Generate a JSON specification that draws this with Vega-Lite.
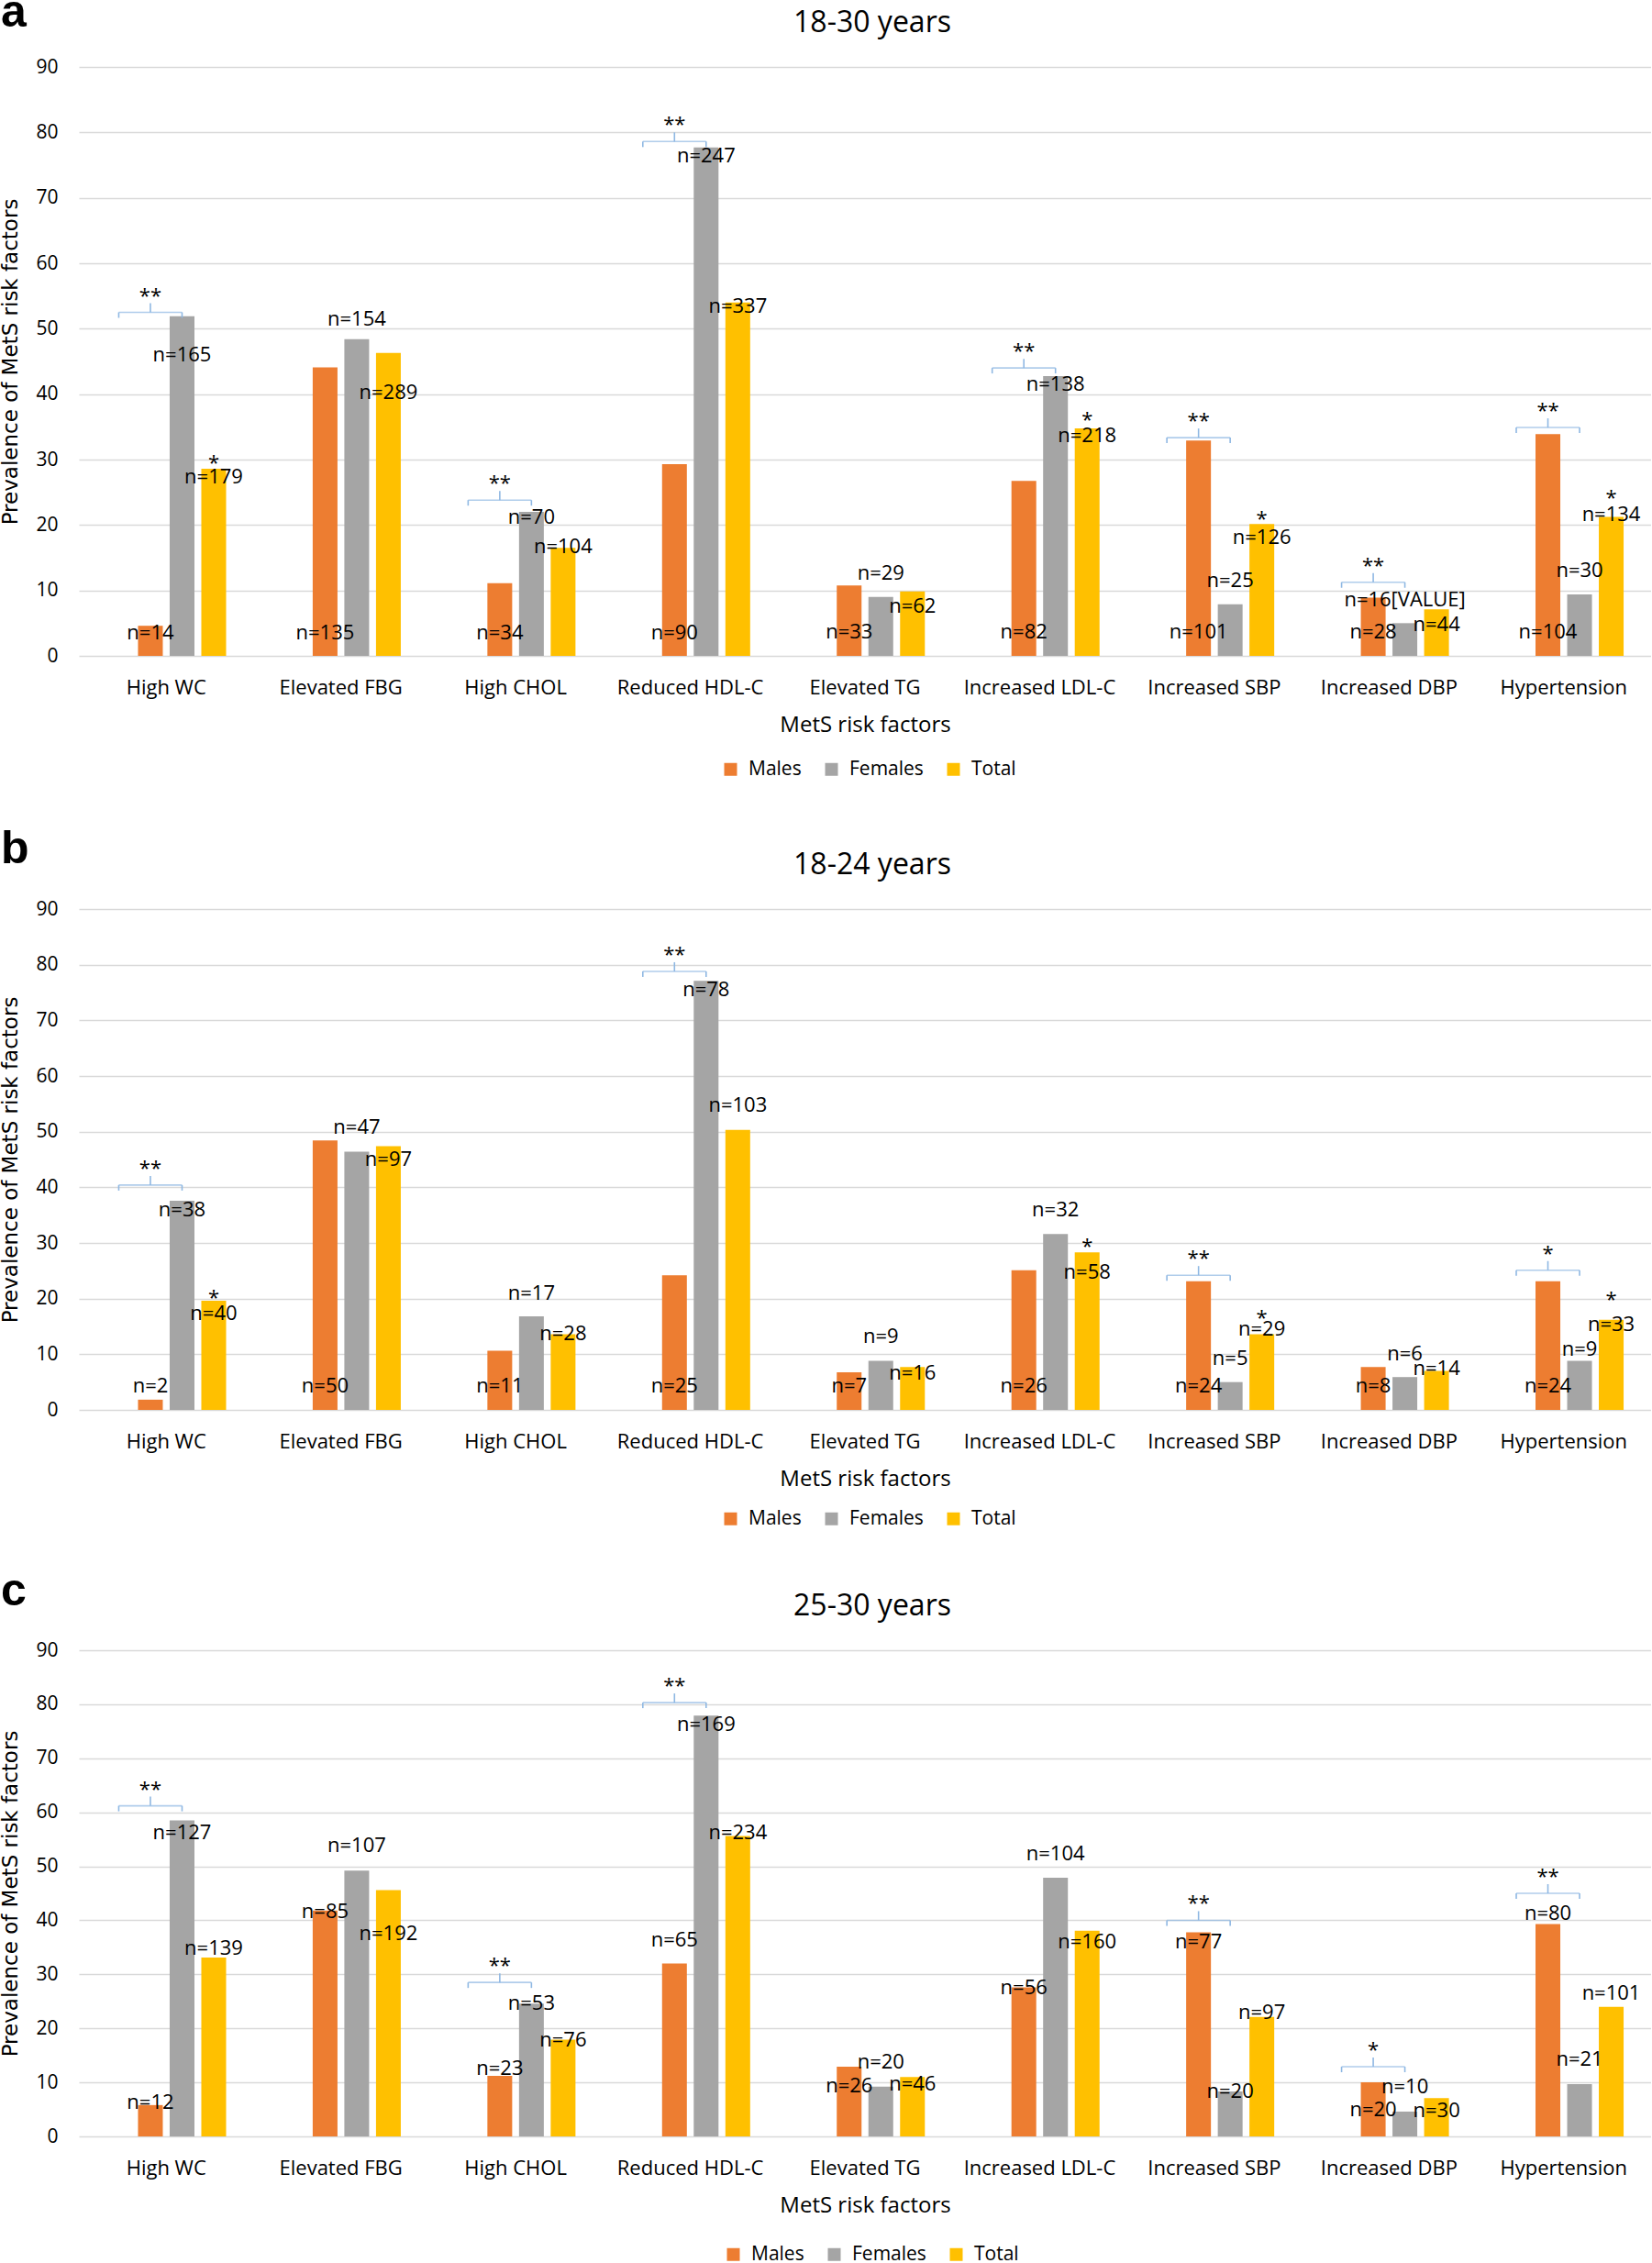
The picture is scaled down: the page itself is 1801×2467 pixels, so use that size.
{
  "$schema": "https://vega.github.io/schema/vega-lite/v6.json",
  "padding": {"top": -11, "left": 0, "right": 0, "bottom": 0},
  "background": "white",
  "datasets": {
    "bars": [
      {"panel": "a", "factor": "High WC", "sex": "Males", "value": 4.6, "n": "n=14", "ly": 3.55},
      {"panel": "a", "factor": "High WC", "sex": "Females", "value": 51.9, "n": "n=165", "ly": 46.0},
      {"panel": "a", "factor": "High WC", "sex": "Total", "value": 28.6, "n": "n=179", "ly": 27.3},
      {"panel": "a", "factor": "Elevated FBG", "sex": "Males", "value": 44.1, "n": "n=135", "ly": 3.55},
      {"panel": "a", "factor": "Elevated FBG", "sex": "Females", "value": 48.4, "n": "n=154", "ly": 51.4},
      {"panel": "a", "factor": "Elevated FBG", "sex": "Total", "value": 46.3, "n": "n=289", "ly": 40.3},
      {"panel": "a", "factor": "High CHOL", "sex": "Males", "value": 11.1, "n": "n=34", "ly": 3.55},
      {"panel": "a", "factor": "High CHOL", "sex": "Females", "value": 22.0, "n": "n=70", "ly": 21.1},
      {"panel": "a", "factor": "High CHOL", "sex": "Total", "value": 16.5, "n": "n=104", "ly": 16.7},
      {"panel": "a", "factor": "Reduced HDL-C", "sex": "Males", "value": 29.3, "n": "n=90", "ly": 3.55},
      {"panel": "a", "factor": "Reduced HDL-C", "sex": "Females", "value": 77.7, "n": "n=247", "ly": 76.4},
      {"panel": "a", "factor": "Reduced HDL-C", "sex": "Total", "value": 54.0, "n": "n=337", "ly": 53.4},
      {"panel": "a", "factor": "Elevated TG", "sex": "Males", "value": 10.75, "n": "n=33", "ly": 3.6},
      {"panel": "a", "factor": "Elevated TG", "sex": "Females", "value": 9.0, "n": "n=29", "ly": 12.65},
      {"panel": "a", "factor": "Elevated TG", "sex": "Total", "value": 9.85, "n": "n=62", "ly": 7.6},
      {"panel": "a", "factor": "Increased LDL-C", "sex": "Males", "value": 26.75, "n": "n=82", "ly": 3.6},
      {"panel": "a", "factor": "Increased LDL-C", "sex": "Females", "value": 42.75, "n": "n=138", "ly": 41.5},
      {"panel": "a", "factor": "Increased LDL-C", "sex": "Total", "value": 34.75, "n": "n=218", "ly": 33.6},
      {"panel": "a", "factor": "Increased SBP", "sex": "Males", "value": 32.9, "n": "n=101", "ly": 3.6},
      {"panel": "a", "factor": "Increased SBP", "sex": "Females", "value": 7.9, "n": "n=25", "ly": 11.5},
      {"panel": "a", "factor": "Increased SBP", "sex": "Total", "value": 20.15, "n": "n=126", "ly": 18.1},
      {"panel": "a", "factor": "Increased DBP", "sex": "Males", "value": 8.9, "n": "n=28", "ly": 3.6},
      {"panel": "a", "factor": "Increased DBP", "sex": "Females", "value": 5.0, "n": "n=16[VALUE]", "ly": 8.6},
      {"panel": "a", "factor": "Increased DBP", "sex": "Total", "value": 7.1, "n": "n=44", "ly": 4.75},
      {"panel": "a", "factor": "Hypertension", "sex": "Males", "value": 33.9, "n": "n=104", "ly": 3.6},
      {"panel": "a", "factor": "Hypertension", "sex": "Females", "value": 9.4, "n": "n=30", "ly": 13.0},
      {"panel": "a", "factor": "Hypertension", "sex": "Total", "value": 21.25, "n": "n=134", "ly": 21.6},

      {"panel": "b", "factor": "High WC", "sex": "Males", "value": 1.84, "n": "n=2", "ly": 4.3},
      {"panel": "b", "factor": "High WC", "sex": "Females", "value": 37.6, "n": "n=38", "ly": 36.0},
      {"panel": "b", "factor": "High WC", "sex": "Total", "value": 19.6, "n": "n=40", "ly": 17.3},
      {"panel": "b", "factor": "Elevated FBG", "sex": "Males", "value": 48.4, "n": "n=50", "ly": 4.3},
      {"panel": "b", "factor": "Elevated FBG", "sex": "Females", "value": 46.4, "n": "n=47", "ly": 50.7},
      {"panel": "b", "factor": "Elevated FBG", "sex": "Total", "value": 47.4, "n": "n=97", "ly": 45.0},
      {"panel": "b", "factor": "High CHOL", "sex": "Males", "value": 10.65, "n": "n=11", "ly": 4.3},
      {"panel": "b", "factor": "High CHOL", "sex": "Females", "value": 16.8, "n": "n=17", "ly": 21.0},
      {"panel": "b", "factor": "High CHOL", "sex": "Total", "value": 13.6, "n": "n=28", "ly": 13.6},
      {"panel": "b", "factor": "Reduced HDL-C", "sex": "Males", "value": 24.2, "n": "n=25", "ly": 4.3},
      {"panel": "b", "factor": "Reduced HDL-C", "sex": "Females", "value": 77.1, "n": "n=78", "ly": 75.5},
      {"panel": "b", "factor": "Reduced HDL-C", "sex": "Total", "value": 50.3, "n": "n=103", "ly": 54.7},
      {"panel": "b", "factor": "Elevated TG", "sex": "Males", "value": 6.76, "n": "n=7", "ly": 4.3},
      {"panel": "b", "factor": "Elevated TG", "sex": "Females", "value": 8.8, "n": "n=9", "ly": 13.2},
      {"panel": "b", "factor": "Elevated TG", "sex": "Total", "value": 7.7, "n": "n=16", "ly": 6.6},
      {"panel": "b", "factor": "Increased LDL-C", "sex": "Males", "value": 25.1, "n": "n=26", "ly": 4.3},
      {"panel": "b", "factor": "Increased LDL-C", "sex": "Females", "value": 31.6, "n": "n=32", "ly": 36.0},
      {"panel": "b", "factor": "Increased LDL-C", "sex": "Total", "value": 28.3, "n": "n=58", "ly": 24.8},
      {"panel": "b", "factor": "Increased SBP", "sex": "Males", "value": 23.1, "n": "n=24", "ly": 4.3},
      {"panel": "b", "factor": "Increased SBP", "sex": "Females", "value": 5.0, "n": "n=5", "ly": 9.2},
      {"panel": "b", "factor": "Increased SBP", "sex": "Total", "value": 13.6, "n": "n=29", "ly": 14.5},
      {"panel": "b", "factor": "Increased DBP", "sex": "Males", "value": 7.7, "n": "n=8", "ly": 4.3},
      {"panel": "b", "factor": "Increased DBP", "sex": "Females", "value": 5.9, "n": "n=6", "ly": 10.1},
      {"panel": "b", "factor": "Increased DBP", "sex": "Total", "value": 7.0, "n": "n=14", "ly": 7.35},
      {"panel": "b", "factor": "Hypertension", "sex": "Males", "value": 23.1, "n": "n=24", "ly": 4.3},
      {"panel": "b", "factor": "Hypertension", "sex": "Females", "value": 8.8, "n": "n=9", "ly": 10.9},
      {"panel": "b", "factor": "Hypertension", "sex": "Total", "value": 16.2, "n": "n=33", "ly": 15.4},

      {"panel": "c", "factor": "High WC", "sex": "Males", "value": 5.8, "n": "n=12", "ly": 6.2},
      {"panel": "c", "factor": "High WC", "sex": "Females", "value": 58.5, "n": "n=127", "ly": 56.2},
      {"panel": "c", "factor": "High WC", "sex": "Total", "value": 33.1, "n": "n=139", "ly": 34.8},
      {"panel": "c", "factor": "Elevated FBG", "sex": "Males", "value": 41.8, "n": "n=85", "ly": 41.6},
      {"panel": "c", "factor": "Elevated FBG", "sex": "Females", "value": 49.2, "n": "n=107", "ly": 53.9},
      {"panel": "c", "factor": "Elevated FBG", "sex": "Total", "value": 45.6, "n": "n=192", "ly": 37.5},
      {"panel": "c", "factor": "High CHOL", "sex": "Males", "value": 11.2, "n": "n=23", "ly": 12.5},
      {"panel": "c", "factor": "High CHOL", "sex": "Females", "value": 24.6, "n": "n=53", "ly": 24.6},
      {"panel": "c", "factor": "High CHOL", "sex": "Total", "value": 17.9, "n": "n=76", "ly": 17.9},
      {"panel": "c", "factor": "Reduced HDL-C", "sex": "Males", "value": 32.0, "n": "n=65", "ly": 36.4},
      {"panel": "c", "factor": "Reduced HDL-C", "sex": "Females", "value": 77.9, "n": "n=169", "ly": 76.2},
      {"panel": "c", "factor": "Reduced HDL-C", "sex": "Total", "value": 55.6, "n": "n=234", "ly": 56.2},
      {"panel": "c", "factor": "Elevated TG", "sex": "Males", "value": 12.9, "n": "n=26", "ly": 9.3},
      {"panel": "c", "factor": "Elevated TG", "sex": "Females", "value": 9.2, "n": "n=20", "ly": 13.7},
      {"panel": "c", "factor": "Elevated TG", "sex": "Total", "value": 11.0, "n": "n=46", "ly": 9.6},
      {"panel": "c", "factor": "Increased LDL-C", "sex": "Males", "value": 27.6, "n": "n=56", "ly": 27.5},
      {"panel": "c", "factor": "Increased LDL-C", "sex": "Females", "value": 47.9, "n": "n=104", "ly": 52.3},
      {"panel": "c", "factor": "Increased LDL-C", "sex": "Total", "value": 38.1, "n": "n=160", "ly": 36.0},
      {"panel": "c", "factor": "Increased SBP", "sex": "Males", "value": 37.8, "n": "n=77", "ly": 36.0},
      {"panel": "c", "factor": "Increased SBP", "sex": "Females", "value": 8.3, "n": "n=20", "ly": 8.3},
      {"panel": "c", "factor": "Increased SBP", "sex": "Total", "value": 22.1, "n": "n=97", "ly": 22.9},
      {"panel": "c", "factor": "Increased DBP", "sex": "Males", "value": 10.0, "n": "n=20", "ly": 5.0},
      {"panel": "c", "factor": "Increased DBP", "sex": "Females", "value": 4.6, "n": "n=10", "ly": 9.2},
      {"panel": "c", "factor": "Increased DBP", "sex": "Total", "value": 7.1, "n": "n=30", "ly": 4.8},
      {"panel": "c", "factor": "Hypertension", "sex": "Males", "value": 39.3, "n": "n=80", "ly": 41.2},
      {"panel": "c", "factor": "Hypertension", "sex": "Females", "value": 9.7, "n": "n=21", "ly": 14.2},
      {"panel": "c", "factor": "Hypertension", "sex": "Total", "value": 24.0, "n": "n=101", "ly": 26.5}
    ],
    "brackets": [
      {"panel": "a", "factor": "High WC", "level": 52.5, "stars": "**"},
      {"panel": "a", "factor": "High CHOL", "level": 23.8, "stars": "**"},
      {"panel": "a", "factor": "Reduced HDL-C", "level": 78.6, "stars": "**"},
      {"panel": "a", "factor": "Increased LDL-C", "level": 44.0, "stars": "**"},
      {"panel": "a", "factor": "Increased SBP", "level": 33.35, "stars": "**"},
      {"panel": "a", "factor": "Increased DBP", "level": 11.25, "stars": "**"},
      {"panel": "a", "factor": "Hypertension", "level": 34.9, "stars": "**"},
      {"panel": "b", "factor": "High WC", "level": 40.4, "stars": "**"},
      {"panel": "b", "factor": "Reduced HDL-C", "level": 78.8, "stars": "**"},
      {"panel": "b", "factor": "Increased SBP", "level": 24.2, "stars": "**"},
      {"panel": "b", "factor": "Hypertension", "level": 25.1, "stars": "*"},
      {"panel": "c", "factor": "High WC", "level": 61.2, "stars": "**"},
      {"panel": "c", "factor": "High CHOL", "level": 28.5, "stars": "**"},
      {"panel": "c", "factor": "Reduced HDL-C", "level": 80.3, "stars": "**"},
      {"panel": "c", "factor": "Increased SBP", "level": 40.0, "stars": "**"},
      {"panel": "c", "factor": "Increased DBP", "level": 12.9, "stars": "*"},
      {"panel": "c", "factor": "Hypertension", "level": 45.0, "stars": "**"}
    ],
    "stars": [
      {"panel": "a", "factor": "High WC", "at": 30.2},
      {"panel": "a", "factor": "Increased LDL-C", "at": 36.75},
      {"panel": "a", "factor": "Increased SBP", "at": 21.6},
      {"panel": "a", "factor": "Hypertension", "at": 24.85},
      {"panel": "b", "factor": "High WC", "at": 21.0},
      {"panel": "b", "factor": "Increased LDL-C", "at": 30.1},
      {"panel": "b", "factor": "Increased SBP", "at": 17.3},
      {"panel": "b", "factor": "Hypertension", "at": 20.6}
    ]
  },
  "spacing": 52,
  "resolve": {"legend": {"color": "independent"}},
  "vconcat": [
    {
      "title": {"text": "a", "anchor": "start", "frame": "bounds", "font": "Liberation Sans", "fontSize": 50, "fontWeight": "bold", "offset": -30},
      "resolve": {"legend": {"color": "independent"}},
      "vconcat": [
        {
          "title": {"text": "18-30 years", "anchor": "middle", "frame": "group", "fontSize": 32, "offset": 20, "dx": 8},
          "width": 1714,
          "height": 642,
          "encoding": {
            "x": {"field": "factor", "type": "nominal", "title": "MetS risk factors",
              "scale": {"domain": ["High WC", "Elevated FBG", "High CHOL", "Reduced HDL-C", "Elevated TG", "Increased LDL-C", "Increased SBP", "Increased DBP", "Hypertension"], "paddingInner": 0, "paddingOuter": 0}}
          },
          "layer": [
            {
              "data": {"name": "bars"},
              "transform": [{"filter": "datum.panel === 'a'"}],
              "mark": {"type": "bar"},
              "encoding": {
                "xOffset": {"field": "sex", "scale": {"domain": ["blank", "Males", "Females", "Total"], "paddingInner": 0.217, "paddingOuter": 0.868}},
                "y": {"field": "value", "type": "quantitative", "title": "Prevalence of MetS risk factors", "scale": {"domain": [0, 90], "nice": false}, "axis": {"values": [0, 10, 20, 30, 40, 50, 60, 70, 80, 90]}},
                "color": {"field": "sex", "type": "nominal", "scale": {"domain": ["Males", "Females", "Total"], "range": ["#ED7D31", "#A5A5A5", "#FFC000"]},
                  "legend": {"orient": "none", "legendX": 700, "legendY": 755, "direction": "horizontal", "title": null}}
              }
            },
            {
              "data": {"name": "bars"},
              "transform": [{"filter": "datum.panel === 'a'"}],
              "mark": {"type": "text", "fontSize": 22, "baseline": "middle", "color": "#000"},
              "encoding": {
                "xOffset": {"field": "sex", "scale": {"domain": ["blank", "Males", "Females", "Total"], "paddingInner": 0.217, "paddingOuter": 0.868}},
                "y": {"field": "ly", "type": "quantitative", "title": "Prevalence of MetS risk factors", "scale": {"domain": [0, 90], "nice": false}},
                "text": {"field": "n"}
              }
            },
            {
              "data": {"name": "brackets"},
              "transform": [{"filter": "datum.panel === 'a'"}],
              "mark": {"type": "tick", "orient": "horizontal", "size": 69, "thickness": 1.6, "color": "#8FB8E3"},
              "encoding": {
                "xOffset": {"datum": "Males", "scale": {"domain": ["blank", "Males", "Females", "Total"], "paddingInner": 0.217, "paddingOuter": 0.868}},
                "y": {"field": "level", "type": "quantitative", "title": "Prevalence of MetS risk factors", "scale": {"domain": [0, 90], "nice": false}}
              }
            },
            {
              "data": {"name": "brackets"},
              "transform": [{"filter": "datum.panel === 'a'"}],
              "mark": {"type": "rule", "strokeWidth": 1.6, "color": "#8FB8E3", "y2Offset": 6},
              "encoding": {
                "xOffset": {"datum": "blank", "scale": {"domain": ["blank", "Males", "Females", "Total"], "paddingInner": 0.217, "paddingOuter": 0.868}},
                "y": {"field": "level", "type": "quantitative", "title": "Prevalence of MetS risk factors", "scale": {"domain": [0, 90], "nice": false}},
                "y2": {"field": "level"}
              }
            },
            {
              "data": {"name": "brackets"},
              "transform": [{"filter": "datum.panel === 'a'"}],
              "mark": {"type": "rule", "strokeWidth": 1.6, "color": "#8FB8E3", "y2Offset": 6},
              "encoding": {
                "xOffset": {"datum": "Females", "scale": {"domain": ["blank", "Males", "Females", "Total"], "paddingInner": 0.217, "paddingOuter": 0.868}},
                "y": {"field": "level", "type": "quantitative", "title": "Prevalence of MetS risk factors", "scale": {"domain": [0, 90], "nice": false}},
                "y2": {"field": "level"}
              }
            },
            {
              "data": {"name": "brackets"},
              "transform": [{"filter": "datum.panel === 'a'"}],
              "mark": {"type": "rule", "strokeWidth": 1.6, "color": "#8FB8E3", "y2Offset": -10},
              "encoding": {
                "xOffset": {"datum": "Males", "scale": {"domain": ["blank", "Males", "Females", "Total"], "paddingInner": 0.217, "paddingOuter": 0.868}},
                "y": {"field": "level", "type": "quantitative", "title": "Prevalence of MetS risk factors", "scale": {"domain": [0, 90], "nice": false}},
                "y2": {"field": "level"}
              }
            },
            {
              "data": {"name": "brackets"},
              "transform": [{"filter": "datum.panel === 'a'"}],
              "mark": {"type": "text", "fontSize": 22, "baseline": "middle", "dy": -18, "color": "#000"},
              "encoding": {
                "xOffset": {"datum": "Males", "scale": {"domain": ["blank", "Males", "Females", "Total"], "paddingInner": 0.217, "paddingOuter": 0.868}},
                "y": {"field": "level", "type": "quantitative", "title": "Prevalence of MetS risk factors", "scale": {"domain": [0, 90], "nice": false}},
                "text": {"field": "stars"}
              }
            },
            {
              "data": {"name": "stars"},
              "transform": [{"filter": "datum.panel === 'a'"}],
              "mark": {"type": "text", "text": "*", "fontSize": 22, "baseline": "middle", "dy": 5, "color": "#000"},
              "encoding": {
                "xOffset": {"datum": "Total", "scale": {"domain": ["blank", "Males", "Females", "Total"], "paddingInner": 0.217, "paddingOuter": 0.868}},
                "y": {"field": "at", "type": "quantitative", "title": "Prevalence of MetS risk factors", "scale": {"domain": [0, 90], "nice": false}}
              }
            }
          ]
        }
      ]
    },
    {
      "spacing": 44,
      "resolve": {"legend": {"color": "independent"}},
      "vconcat": [
        {
          "title": {"text": "b", "anchor": "start", "frame": "bounds", "font": "Liberation Sans", "fontSize": 50, "fontWeight": "bold", "offset": -24},
          "resolve": {"legend": {"color": "independent"}},
          "vconcat": [
            {
              "title": {"text": "18-24 years", "anchor": "middle", "frame": "group", "fontSize": 32, "offset": 20, "dx": 8},
              "width": 1714,
              "height": 546,
              "encoding": {
                "x": {"field": "factor", "type": "nominal", "title": "MetS risk factors",
                  "scale": {"domain": ["High WC", "Elevated FBG", "High CHOL", "Reduced HDL-C", "Elevated TG", "Increased LDL-C", "Increased SBP", "Increased DBP", "Hypertension"], "paddingInner": 0, "paddingOuter": 0}}
              },
              "layer": [
                {
                  "data": {"name": "bars"},
                  "transform": [{"filter": "datum.panel === 'b'"}],
                  "mark": {"type": "bar"},
                  "encoding": {
                    "xOffset": {"field": "sex", "scale": {"domain": ["blank", "Males", "Females", "Total"], "paddingInner": 0.217, "paddingOuter": 0.868}},
                    "y": {"field": "value", "type": "quantitative", "title": "Prevalence of MetS risk factors", "scale": {"domain": [0, 90], "nice": false}, "axis": {"values": [0, 10, 20, 30, 40, 50, 60, 70, 80, 90]}},
                    "color": {"field": "sex", "type": "nominal", "scale": {"domain": ["Males", "Females", "Total"], "range": ["#ED7D31", "#A5A5A5", "#FFC000"]},
                      "legend": {"orient": "none", "legendX": 700, "legendY": 654, "direction": "horizontal", "title": null}}
                  }
                },
                {
                  "data": {"name": "bars"},
                  "transform": [{"filter": "datum.panel === 'b'"}],
                  "mark": {"type": "text", "fontSize": 22, "baseline": "middle", "color": "#000"},
                  "encoding": {
                    "xOffset": {"field": "sex", "scale": {"domain": ["blank", "Males", "Females", "Total"], "paddingInner": 0.217, "paddingOuter": 0.868}},
                    "y": {"field": "ly", "type": "quantitative", "title": "Prevalence of MetS risk factors", "scale": {"domain": [0, 90], "nice": false}},
                    "text": {"field": "n"}
                  }
                },
                {
                  "data": {"name": "brackets"},
                  "transform": [{"filter": "datum.panel === 'b'"}],
                  "mark": {"type": "tick", "orient": "horizontal", "size": 69, "thickness": 1.6, "color": "#8FB8E3"},
                  "encoding": {
                    "xOffset": {"datum": "Males", "scale": {"domain": ["blank", "Males", "Females", "Total"], "paddingInner": 0.217, "paddingOuter": 0.868}},
                    "y": {"field": "level", "type": "quantitative", "title": "Prevalence of MetS risk factors", "scale": {"domain": [0, 90], "nice": false}}
                  }
                },
                {
                  "data": {"name": "brackets"},
                  "transform": [{"filter": "datum.panel === 'b'"}],
                  "mark": {"type": "rule", "strokeWidth": 1.6, "color": "#8FB8E3", "y2Offset": 6},
                  "encoding": {
                    "xOffset": {"datum": "blank", "scale": {"domain": ["blank", "Males", "Females", "Total"], "paddingInner": 0.217, "paddingOuter": 0.868}},
                    "y": {"field": "level", "type": "quantitative", "title": "Prevalence of MetS risk factors", "scale": {"domain": [0, 90], "nice": false}},
                    "y2": {"field": "level"}
                  }
                },
                {
                  "data": {"name": "brackets"},
                  "transform": [{"filter": "datum.panel === 'b'"}],
                  "mark": {"type": "rule", "strokeWidth": 1.6, "color": "#8FB8E3", "y2Offset": 6},
                  "encoding": {
                    "xOffset": {"datum": "Females", "scale": {"domain": ["blank", "Males", "Females", "Total"], "paddingInner": 0.217, "paddingOuter": 0.868}},
                    "y": {"field": "level", "type": "quantitative", "title": "Prevalence of MetS risk factors", "scale": {"domain": [0, 90], "nice": false}},
                    "y2": {"field": "level"}
                  }
                },
                {
                  "data": {"name": "brackets"},
                  "transform": [{"filter": "datum.panel === 'b'"}],
                  "mark": {"type": "rule", "strokeWidth": 1.6, "color": "#8FB8E3", "y2Offset": -10},
                  "encoding": {
                    "xOffset": {"datum": "Males", "scale": {"domain": ["blank", "Males", "Females", "Total"], "paddingInner": 0.217, "paddingOuter": 0.868}},
                    "y": {"field": "level", "type": "quantitative", "title": "Prevalence of MetS risk factors", "scale": {"domain": [0, 90], "nice": false}},
                    "y2": {"field": "level"}
                  }
                },
                {
                  "data": {"name": "brackets"},
                  "transform": [{"filter": "datum.panel === 'b'"}],
                  "mark": {"type": "text", "fontSize": 22, "baseline": "middle", "dy": -18, "color": "#000"},
                  "encoding": {
                    "xOffset": {"datum": "Males", "scale": {"domain": ["blank", "Males", "Females", "Total"], "paddingInner": 0.217, "paddingOuter": 0.868}},
                    "y": {"field": "level", "type": "quantitative", "title": "Prevalence of MetS risk factors", "scale": {"domain": [0, 90], "nice": false}},
                    "text": {"field": "stars"}
                  }
                },
                {
                  "data": {"name": "stars"},
                  "transform": [{"filter": "datum.panel === 'b'"}],
                  "mark": {"type": "text", "text": "*", "fontSize": 22, "baseline": "middle", "dy": 5, "color": "#000"},
                  "encoding": {
                    "xOffset": {"datum": "Total", "scale": {"domain": ["blank", "Males", "Females", "Total"], "paddingInner": 0.217, "paddingOuter": 0.868}},
                    "y": {"field": "at", "type": "quantitative", "title": "Prevalence of MetS risk factors", "scale": {"domain": [0, 90], "nice": false}}
                  }
                }
              ]
            }
          ]
        },
        {
          "title": {"text": "c", "anchor": "start", "frame": "bounds", "font": "Liberation Sans", "fontSize": 50, "fontWeight": "bold", "offset": -25},
          "resolve": {"legend": {"color": "independent"}},
          "vconcat": [
            {
              "title": {"text": "25-30 years", "anchor": "middle", "frame": "group", "fontSize": 32, "offset": 20, "dx": 8},
              "width": 1714,
              "height": 530,
              "encoding": {
                "x": {"field": "factor", "type": "nominal", "title": "MetS risk factors",
                  "scale": {"domain": ["High WC", "Elevated FBG", "High CHOL", "Reduced HDL-C", "Elevated TG", "Increased LDL-C", "Increased SBP", "Increased DBP", "Hypertension"], "paddingInner": 0, "paddingOuter": 0}}
              },
              "layer": [
                {
                  "data": {"name": "bars"},
                  "transform": [{"filter": "datum.panel === 'c'"}],
                  "mark": {"type": "bar"},
                  "encoding": {
                    "xOffset": {"field": "sex", "scale": {"domain": ["blank", "Males", "Females", "Total"], "paddingInner": 0.217, "paddingOuter": 0.868}},
                    "y": {"field": "value", "type": "quantitative", "title": "Prevalence of MetS risk factors", "scale": {"domain": [0, 90], "nice": false}, "axis": {"values": [0, 10, 20, 30, 40, 50, 60, 70, 80, 90]}},
                    "color": {"field": "sex", "type": "nominal", "scale": {"domain": ["Males", "Females", "Total"], "range": ["#ED7D31", "#A5A5A5", "#FFC000"]},
                      "legend": {"orient": "none", "legendX": 703, "legendY": 648, "direction": "horizontal", "title": null}}
                  }
                },
                {
                  "data": {"name": "bars"},
                  "transform": [{"filter": "datum.panel === 'c'"}],
                  "mark": {"type": "text", "fontSize": 22, "baseline": "middle", "color": "#000"},
                  "encoding": {
                    "xOffset": {"field": "sex", "scale": {"domain": ["blank", "Males", "Females", "Total"], "paddingInner": 0.217, "paddingOuter": 0.868}},
                    "y": {"field": "ly", "type": "quantitative", "title": "Prevalence of MetS risk factors", "scale": {"domain": [0, 90], "nice": false}},
                    "text": {"field": "n"}
                  }
                },
                {
                  "data": {"name": "brackets"},
                  "transform": [{"filter": "datum.panel === 'c'"}],
                  "mark": {"type": "tick", "orient": "horizontal", "size": 69, "thickness": 1.6, "color": "#8FB8E3"},
                  "encoding": {
                    "xOffset": {"datum": "Males", "scale": {"domain": ["blank", "Males", "Females", "Total"], "paddingInner": 0.217, "paddingOuter": 0.868}},
                    "y": {"field": "level", "type": "quantitative", "title": "Prevalence of MetS risk factors", "scale": {"domain": [0, 90], "nice": false}}
                  }
                },
                {
                  "data": {"name": "brackets"},
                  "transform": [{"filter": "datum.panel === 'c'"}],
                  "mark": {"type": "rule", "strokeWidth": 1.6, "color": "#8FB8E3", "y2Offset": 6},
                  "encoding": {
                    "xOffset": {"datum": "blank", "scale": {"domain": ["blank", "Males", "Females", "Total"], "paddingInner": 0.217, "paddingOuter": 0.868}},
                    "y": {"field": "level", "type": "quantitative", "title": "Prevalence of MetS risk factors", "scale": {"domain": [0, 90], "nice": false}},
                    "y2": {"field": "level"}
                  }
                },
                {
                  "data": {"name": "brackets"},
                  "transform": [{"filter": "datum.panel === 'c'"}],
                  "mark": {"type": "rule", "strokeWidth": 1.6, "color": "#8FB8E3", "y2Offset": 6},
                  "encoding": {
                    "xOffset": {"datum": "Females", "scale": {"domain": ["blank", "Males", "Females", "Total"], "paddingInner": 0.217, "paddingOuter": 0.868}},
                    "y": {"field": "level", "type": "quantitative", "title": "Prevalence of MetS risk factors", "scale": {"domain": [0, 90], "nice": false}},
                    "y2": {"field": "level"}
                  }
                },
                {
                  "data": {"name": "brackets"},
                  "transform": [{"filter": "datum.panel === 'c'"}],
                  "mark": {"type": "rule", "strokeWidth": 1.6, "color": "#8FB8E3", "y2Offset": -10},
                  "encoding": {
                    "xOffset": {"datum": "Males", "scale": {"domain": ["blank", "Males", "Females", "Total"], "paddingInner": 0.217, "paddingOuter": 0.868}},
                    "y": {"field": "level", "type": "quantitative", "title": "Prevalence of MetS risk factors", "scale": {"domain": [0, 90], "nice": false}},
                    "y2": {"field": "level"}
                  }
                },
                {
                  "data": {"name": "brackets"},
                  "transform": [{"filter": "datum.panel === 'c'"}],
                  "mark": {"type": "text", "fontSize": 22, "baseline": "middle", "dy": -18, "color": "#000"},
                  "encoding": {
                    "xOffset": {"datum": "Males", "scale": {"domain": ["blank", "Males", "Females", "Total"], "paddingInner": 0.217, "paddingOuter": 0.868}},
                    "y": {"field": "level", "type": "quantitative", "title": "Prevalence of MetS risk factors", "scale": {"domain": [0, 90], "nice": false}},
                    "text": {"field": "stars"}
                  }
                }
              ]
            }
          ]
        }
      ]
    }
  ],
  "config": {
    "font": "Open Sans",
    "view": {"stroke": null},
    "title": {"font": "Open Sans", "fontWeight": "normal", "color": "#000"},
    "text": {"font": "Open Sans"},
    "axis": {"labelFont": "Open Sans", "titleFont": "Open Sans", "labelColor": "#000", "titleColor": "#000", "titleFontWeight": "normal"},
    "axisY": {"grid": true, "gridColor": "#D9D9D9", "gridWidth": 1.6, "domain": false, "ticks": false, "tickSize": 0, "labelFontSize": 21, "labelPadding": 23, "titleFont": "DejaVu Sans", "titleFontSize": 23, "titlePadding": 15},
    "axisX": {"grid": false, "domain": false, "ticks": false, "tickSize": 0, "labelAngle": 0, "labelFontSize": 22, "labelPadding": 24, "titleFontSize": 24, "titlePadding": 18},
    "legend": {"labelFont": "Open Sans", "labelFontSize": 21, "labelColor": "#000", "symbolType": "square", "symbolSize": 196, "symbolStrokeWidth": 0, "labelOffset": 9, "columnPadding": 22, "padding": 0}
  }
}
